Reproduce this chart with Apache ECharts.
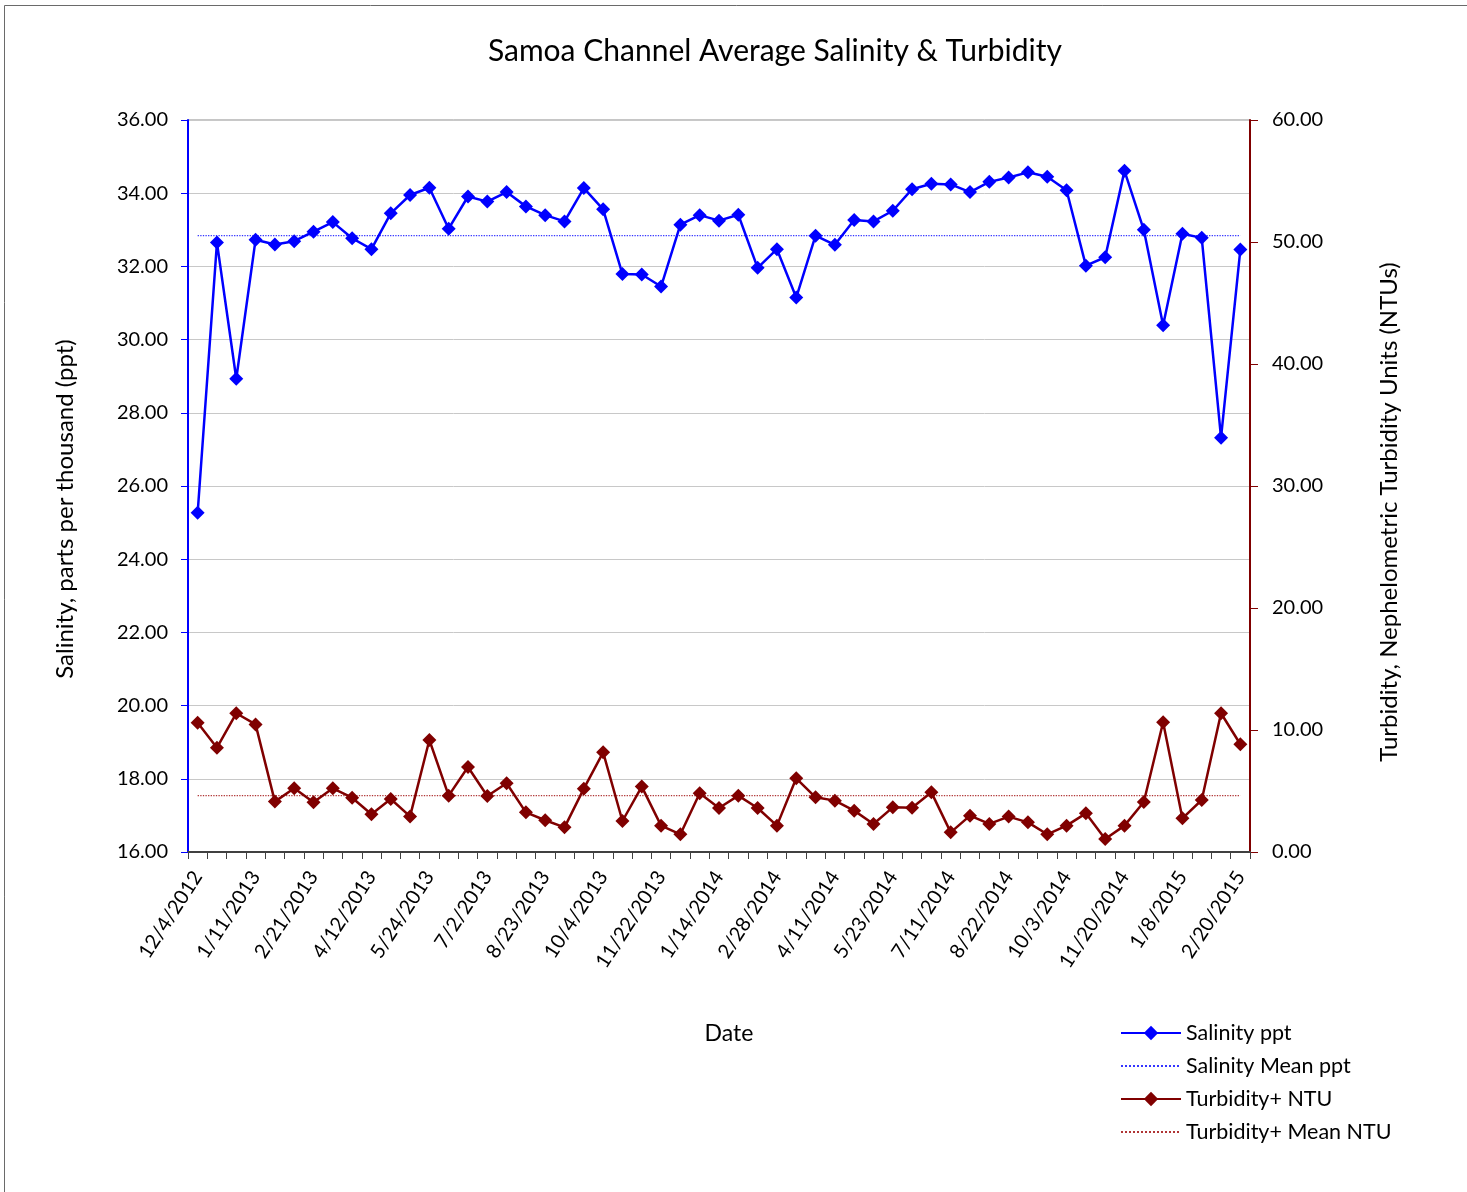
<!DOCTYPE html>
<html>
<head>
<meta charset="utf-8">
<script src="https://cdn.jsdelivr.net/npm/echarts@6/dist/echarts.min.js"></script>
<style>
html,body{margin:0;padding:0;background:#fff;}
#chart{width:1467px;height:1192px;}
</style>
</head>
<body>
<div id="chart"></div>
<script>
const dates = [
  '12/4/2012','12/17/2012','12/28/2012','1/11/2013','1/25/2013','2/8/2013','2/21/2013','3/8/2013','3/22/2013',
  '4/12/2013','4/26/2013','5/10/2013','5/24/2013','6/7/2013','6/19/2013','7/2/2013','7/19/2013','8/9/2013',
  '8/23/2013','9/6/2013','9/20/2013','10/4/2013','10/25/2013','11/8/2013','11/22/2013','12/6/2013','12/20/2013',
  '1/14/2014','1/31/2014','2/14/2014','2/28/2014','3/14/2014','3/28/2014','4/11/2014','4/25/2014','5/9/2014',
  '5/23/2014','6/6/2014','6/20/2014','7/11/2014','7/25/2014','8/8/2014','8/22/2014','9/5/2014','9/19/2014',
  '10/3/2014','10/17/2014','11/6/2014','11/20/2014','12/5/2014','12/19/2014','1/8/2015','1/23/2015','2/6/2015',
  '2/20/2015'
];
const salinity = [
  25.27, 32.65, 28.93, 32.73, 32.60, 32.69, 32.95, 33.21, 32.77,
  32.47, 33.45, 33.95, 34.15, 33.03, 33.91, 33.77, 34.03, 33.64,
  33.40, 33.23, 34.14, 33.56, 31.79, 31.78, 31.45, 33.14, 33.40,
  33.25, 33.41, 31.96, 32.47, 31.15, 32.84, 32.59, 33.27, 33.23,
  33.52, 34.11, 34.26, 34.24, 34.03, 34.31, 34.43, 34.57, 34.45,
  34.08, 32.02, 32.25, 34.61, 33.00, 30.39, 32.89, 32.78, 27.32,
  32.46
];
const turbidity = [
  10.60, 8.55, 11.37, 10.46, 4.13, 5.22, 4.07, 5.22, 4.45,
  3.09, 4.34, 2.92, 9.18, 4.62, 6.97, 4.59, 5.63, 3.25,
  2.60, 2.02, 5.19, 8.17, 2.54, 5.36, 2.16, 1.45, 4.81,
  3.61, 4.62, 3.61, 2.16, 6.04, 4.48, 4.21, 3.39, 2.30,
  3.66, 3.63, 4.89, 1.61, 2.98, 2.30, 2.90, 2.43, 1.45,
  2.16, 3.17, 1.07, 2.16, 4.10, 10.63, 2.76, 4.26, 11.37,
  8.83
];
const salinityMean = 32.84;
const turbidityMean = 4.62;
const seriesNames = ['Salinity ppt', 'Salinity Mean ppt', 'Turbidity+ NTU', 'Turbidity+ Mean NTU'];
const titleText = 'Samoa Channel Average Salinity & Turbidity';
const xAxisTitle = 'Date';
const leftAxisTitle = 'Salinity, parts per thousand (ppt)';
const rightAxisTitle = 'Turbidity, Nephelometric Turbidity Units (NTUs)';

const FONT = 'Lato';
const chart = echarts.init(document.getElementById('chart'), null, {renderer: 'canvas'});
chart.setOption({
  animation: false,
  backgroundColor: '#ffffff',
  textStyle: {fontFamily: FONT, color: '#000'},
  graphic: [{
    type: 'rect', silent: true, z: -10,
    shape: {x: 4.5, y: 5.5, width: 1500, height: 1300},
    style: {fill: 'none', stroke: '#6a6a6a', lineWidth: 1}
  }, {
    type: 'text', silent: true, x: 729, y: 1034,
    style: {text: xAxisTitle, fontFamily: FONT, fontSize: 23, fill: '#000', align: 'center', verticalAlign: 'middle'}
  }, {
    type: 'text', silent: true, x: 65, y: 509, rotation: Math.PI / 2,
    style: {text: leftAxisTitle, fontFamily: FONT, fontSize: 24, fill: '#000', align: 'center', verticalAlign: 'middle'}
  }, {
    type: 'text', silent: true, x: 1389, y: 512, rotation: Math.PI / 2,
    style: {text: rightAxisTitle, fontFamily: FONT, fontSize: 24, fill: '#000', align: 'center', verticalAlign: 'middle'}
  }],
  title: {
    text: titleText,
    left: 770, top: 31, textAlign: 'center',
    textStyle: {fontFamily: FONT, fontSize: 30, fontWeight: 'normal', color: '#000'}
  },
  grid: {left: 188, right: 217, top: 120, bottom: 340, show: true, borderColor: '#8c8c8c', borderWidth: 1},
  legend: {
    orient: 'vertical', left: 1115, top: 1017,
    itemWidth: 60, itemHeight: 18, itemGap: 11,
    textStyle: {fontFamily: FONT, fontSize: 21.5, color: '#000'},
    data: [
      {name: seriesNames[0]},
      {name: seriesNames[1], itemStyle: {opacity: 0}},
      {name: seriesNames[2]},
      {name: seriesNames[3], itemStyle: {opacity: 0}}
    ]
  },
  xAxis: {
    type: 'category', data: dates, boundaryGap: true,
    axisLine: {lineStyle: {color: '#404040', width: 2}},
    axisTick: {show: true, interval: 0, length: 7, lineStyle: {color: '#404040'}},
    axisLabel: {interval: 2, rotate: 57, fontFamily: FONT, fontSize: 20, color: '#000', margin: 21},
    splitLine: {show: false}
  },
  yAxis: [{
    type: 'value', min: 16, max: 36, interval: 2, position: 'left',
    axisLine: {show: true, lineStyle: {color: '#0000ff', width: 2}},
    axisTick: {show: true, length: 7, lineStyle: {color: '#0000ff'}},
    axisLabel: {formatter: v => v.toFixed(2), fontFamily: FONT, fontSize: 20, color: '#000', margin: 20},
    splitLine: {show: true, lineStyle: {color: '#c8c8c8', width: 1}}
  }, {
    type: 'value', min: 0, max: 60, interval: 10, position: 'right',
    axisLine: {show: true, lineStyle: {color: '#800000', width: 2}},
    axisTick: {show: true, length: 8, lineStyle: {color: '#800000'}},
    axisLabel: {formatter: v => v.toFixed(2), fontFamily: FONT, fontSize: 20, color: '#000', margin: 22},
    splitLine: {show: false}
  }],
  series: [{
    name: seriesNames[0], type: 'line', yAxisIndex: 0, data: salinity,
    symbol: 'diamond', symbolSize: 14, showAllSymbol: true, z: 5,
    itemStyle: {color: '#0000ff'}, lineStyle: {color: '#0000ff', width: 2.5}
  }, {
    name: seriesNames[1], type: 'line', yAxisIndex: 0, data: dates.map(() => salinityMean),
    symbol: 'none', z: 3,
    itemStyle: {color: '#3535ff', opacity: 0}, lineStyle: {color: '#3535ff', width: 1.3, type: 'dotted', opacity: 1}
  }, {
    name: seriesNames[2], type: 'line', yAxisIndex: 1, data: turbidity,
    symbol: 'diamond', symbolSize: 14, showAllSymbol: true, z: 5,
    itemStyle: {color: '#800000'}, lineStyle: {color: '#800000', width: 2.5}
  }, {
    name: seriesNames[3], type: 'line', yAxisIndex: 1, data: dates.map(() => turbidityMean),
    symbol: 'none', z: 3,
    itemStyle: {color: '#b03535', opacity: 0}, lineStyle: {color: '#b03535', width: 1.3, type: 'dotted', opacity: 1}
  }]
});
</script>
</body>
</html>
